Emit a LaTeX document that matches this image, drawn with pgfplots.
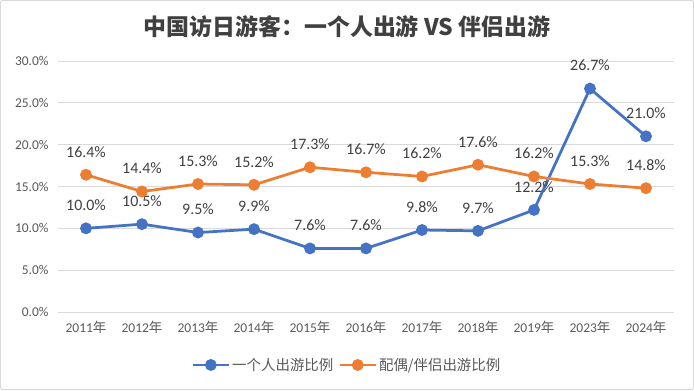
\documentclass[border=0pt]{standalone}
\usepackage{fontspec}
\setmainfont{Carlito}
\newfontfamily\cjk{Noto Sans CJK SC}
\usepackage{pgfplots}
\pgfplotsset{compat=1.18}
\definecolor{cblue}{HTML}{4472C4}
\definecolor{corange}{HTML}{ED7D31}
\definecolor{ctext}{HTML}{595959}
\definecolor{clabel}{HTML}{404040}
\definecolor{cgrid}{HTML}{D9D9D9}
\begin{document}
\begin{tikzpicture}[x=1bp,y=1bp]
\draw[cgrid, line width=1bp, rounded corners=2bp] (0.5,0.5) rectangle (693.5,389.5);
\node[font=\cjk\bfseries\fontsize{23}{26}\selectfont, text=clabel] at (347,363) {中国访日游客：一个人出游 VS 伴侣出游};
\begin{axis}[at={(58bp,78bp)}, anchor=south west, scale only axis,
  width=616bp, height=251bp,
  xmin=-0.5, xmax=10.5, ymin=0, ymax=30,
  ytick={0,5,...,30}, xtick={0,...,10},
  xticklabels={2011{\cjk 年},2012{\cjk 年},2013{\cjk 年},2014{\cjk 年},2015{\cjk 年},2016{\cjk 年},2017{\cjk 年},2018{\cjk 年},2019{\cjk 年},2023{\cjk 年},2024{\cjk 年}},
  /pgf/number format/assume math mode=true,
  yticklabel={\pgfmathprintnumber[fixed,fixed zerofill,precision=1]{\tick}\%},
  yticklabel style={font=\fontsize{13.5}{15}\selectfont, text=ctext, xshift=-6bp},
  xticklabel style={font=\fontsize{13.5}{15}\selectfont, text=ctext, yshift=-6bp},
  ymajorgrids, grid style={cgrid, line width=0.75bp},
  axis x line*=bottom, axis y line*=left,
  y axis line style={draw=none}, x axis line style={cgrid, line width=0.75bp},
  major tick length=0pt,
  nodes near coords={\pgfmathprintnumber[fixed,fixed zerofill,precision=1]{\pgfplotspointmeta}\%},
  nodes near coords style={font=\fontsize{16}{18}\selectfont, text=clabel, anchor=center, yshift=23bp},
  legend style={at={(0.469,-0.211)}, anchor=center, draw=none, legend columns=2,
    font=\cjk\fontsize{14.5}{16}\selectfont, text=ctext,
    /tikz/every even column/.append style={column sep=3bp}},
  legend image code/.code={\draw[mark repeat=2,mark phase=2] plot coordinates {(0bp,0bp) (18bp,0bp) (36bp,0bp)};},
  clip=false,
]
\addplot[cblue, line width=2.75bp, mark=*, mark size=4.5bp] coordinates {(0,10.0)(1,10.5)(2,9.5)(3,9.9)(4,7.6)(5,7.6)(6,9.8)(7,9.7)(8,12.2)(9,26.7)(10,21.0)};
\addlegendentry{一个人出游比例}
\addplot[corange, line width=2.75bp, mark=*, mark size=4.5bp] coordinates {(0,16.4)(1,14.4)(2,15.3)(3,15.2)(4,17.3)(5,16.7)(6,16.2)(7,17.6)(8,16.2)(9,15.3)(10,14.8)};
\addlegendentry{配偶/伴侣出游比例}
\end{axis}
\end{tikzpicture}
\end{document}
